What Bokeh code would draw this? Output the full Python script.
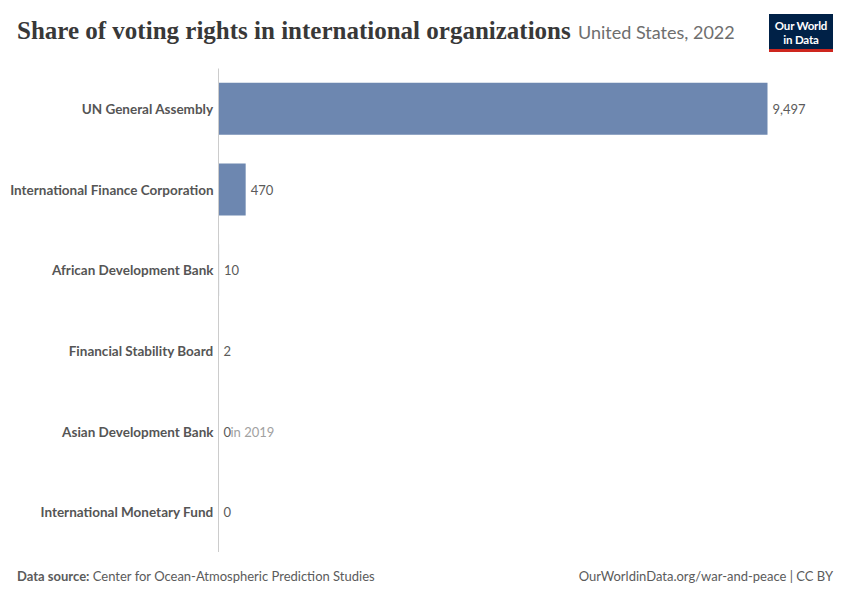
from bokeh.plotting import figure
from bokeh.models import Range1d, FactorRange, Div
from bokeh.layouts import column
from bokeh.core.properties import value
from bokeh.embed import file_html
from bokeh.resources import INLINE

# ---- data ----
categories = ["UN General Assembly", "International Finance Corporation",
              "African Development Bank", "Financial Stability Board",
              "Asian Development Bank", "International Monetary Fund"]
values = [9497, 470, 10, 2, 0, 0]
notes = ["", "", "", "", "in 2019", ""]
title_text = "Share of voting rights in international organizations"
subtitle_text = "United States, 2022"
source_label = "Data source:"
source_text = "Center for Ocean-Atmospheric Prediction Studies"
credit_text = "OurWorldinData.org/war-and-peace | CC BY"

# ---- layout ----
W = 850
HEADER_H, FOOTER_H = 68, 48
LEFT, FW, FH = 218, 600, 484
RIGHT = W - LEFT - FW
BAR_PX_MAX = 549  # pixel length of the largest bar
x_end = max(values) * FW / BAR_PX_MAX

p = figure(width=W, height=FH, output_backend="svg", toolbar_location=None,
           x_range=Range1d(0, x_end), y_range=FactorRange(*reversed(categories)),
           x_axis_location=None, min_border_left=LEFT, min_border_right=RIGHT,
           min_border_top=0, min_border_bottom=0, margin=0)
p.outline_line_color = None
p.grid.visible = False
p.background_fill_color = "white"
p.border_fill_color = "white"

ax = p.yaxis[0]
ax.axis_line_color = "#cccccc"
ax.axis_line_width = 1
ax.major_tick_line_color = None
ax.minor_tick_line_color = None
ax.major_tick_out = 0
ax.major_tick_in = 0
ax.major_label_standoff = 5
ax.major_label_text_font = "Lato"
ax.major_label_text_font_size = "13.5px"
ax.major_label_text_font_style = "bold"
ax.major_label_text_color = "#555555"

src = dict(cat=categories, value=values,
           label=["{:,}".format(v) for v in values], note=notes)
p.hbar(y="cat", right="value", left=0, height=0.645, source=src,
       fill_color="#6d87b0", line_color=None)
p.text(x="value", y="cat", text="label", source=src, x_offset=5,
       text_baseline="middle", text_align="left", text_font_size="13px",
       text_color="#5b5b5b", text_font=value("Lato"))
p.text(x="value", y="cat", text="note", source=src, x_offset=12,
       text_baseline="middle", text_align="left", text_font_size="13px",
       text_color="#a1a1a1", text_font=value("Lato"))

header_html = f"""
<div style="position:relative; width:{W}px; height:{HEADER_H}px; background:white;">
  <div style="position:absolute; left:17px; top:18px; white-space:nowrap;
       font-family:'Liberation Serif'; font-size:25px; line-height:25px;
       font-weight:bold; color:#383838;">{title_text}</div>
  <div style="position:absolute; left:578px; top:23px; white-space:nowrap;
       font-family:Lato; font-size:18px; line-height:18px; color:#6e6e6e;">{subtitle_text}</div>
  <div style="position:absolute; left:769px; top:14px; width:64px; height:38px;
       box-sizing:border-box; padding-top:5px; background:#002147;
       border-bottom:3px solid #ce261e; text-align:center; color:white;
       font-family:Lato; font-weight:bold; font-size:11.5px; line-height:14px;">
       <div style="white-space:nowrap; letter-spacing:-0.2px;">Our World</div>
       <div style="white-space:nowrap; letter-spacing:-0.2px;">in Data</div></div>
</div>
"""

footer_html = f"""
<div style="position:relative; width:{W}px; height:{FOOTER_H}px; background:white;">
  <div style="position:absolute; left:17px; top:18px; white-space:nowrap;
       font-family:Lato; font-size:13px; line-height:13px; color:#5b5b5b;"><b>{source_label}</b> {source_text}</div>
  <div style="position:absolute; right:17px; top:18px; white-space:nowrap;
       font-family:Lato; font-size:13px; line-height:13px; color:#5b5b5b;">{credit_text}</div>
</div>
"""

header = Div(text=header_html, width=W, height=HEADER_H, margin=0)
footer = Div(text=footer_html, width=W, height=FOOTER_H, margin=0)

layout = column(header, p, footer, spacing=0, margin=0)
open("out.html", "w").write(file_html(layout, INLINE))
